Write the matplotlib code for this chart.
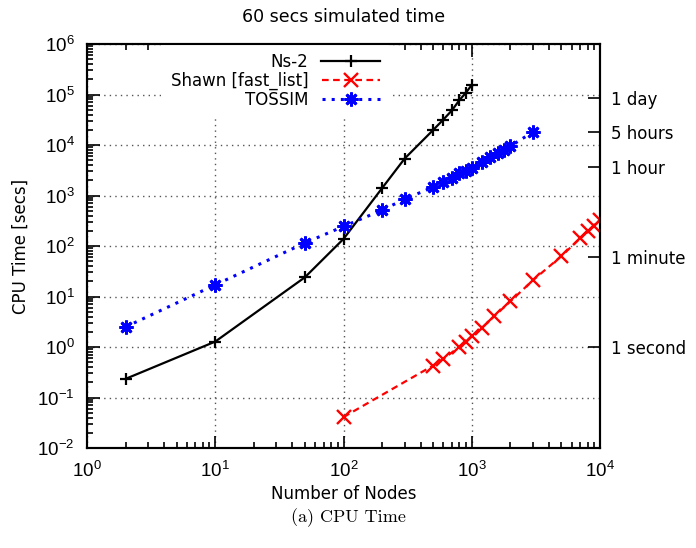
import matplotlib
matplotlib.use("Agg")
import matplotlib.pyplot as plt
from matplotlib.ticker import FixedLocator, NullLocator, FixedFormatter

plt.rcParams['font.family'] = ['Liberation Sans', 'DejaVu Sans']
plt.rcParams['font.size'] = 13.5
plt.rcParams['axes.unicode_minus'] = False
plt.rcParams['mathtext.fontset'] = 'custom'
plt.rcParams['mathtext.rm'] = 'Liberation Sans'
plt.rcParams['mathtext.it'] = 'Liberation Sans:italic'
plt.rcParams['mathtext.bf'] = 'Liberation Sans:bold'

# Ns-2
ns2_nodes = [2, 10, 50, 100, 200, 300, 500, 600, 700, 800, 900, 1000]
ns2_time = [0.234, 1.28, 24, 138, 1400, 5400, 19800, 31800, 48400, 77000, 108000, 155000]

# Shawn [fast_list]
shawn_nodes = [100, 500, 600, 800, 900, 1000, 1200, 1500, 2000, 3000, 5000, 7000, 8000, 9000, 10000]
shawn_time = [0.041, 0.43, 0.58, 1.01, 1.27, 1.65, 2.4, 4.08, 8.0, 21, 63, 142, 200, 252, 327]

# TOSSIM
tossim_nodes = [2, 10, 50, 100, 200, 300, 500, 600, 700, 800, 900, 1000, 1200, 1400, 1600, 1800, 2000, 3000]
tossim_time = [2.5, 17, 115, 244, 514, 846, 1470, 1850, 2250, 2750, 3100, 3540, 4650, 5750, 7000, 8130, 9470, 18100]

# right axis labels
right_ticks = [1, 60, 3600, 18000, 86400]
right_labels = ['1 second', '1 minute', '1 hour', '5 hours', '1 day']

txt_font = 'DejaVu Sans'

fig = plt.figure(figsize=(6.96, 5.48), dpi=100)
ax = fig.add_axes([87 / 696, 1 - 448 / 548, (600 - 87) / 696, (448 - 44) / 548])

ax.plot(ns2_nodes, ns2_time, color='black', linestyle='-', linewidth=1.6,
        marker='+', markersize=9, markeredgewidth=1.6, label='Ns-2')
ax.plot(shawn_nodes, shawn_time, color='red', linestyle=(0, (3, 2)), linewidth=1.6,
        marker='x', markersize=10, markeredgewidth=1.7, label='Shawn [fast_list]')
ax.plot(tossim_nodes, tossim_time, color='blue', linestyle=(0, (1, 2)), linewidth=2.2,
        marker=(8, 2, 0), markersize=10, markeredgewidth=2, label='TOSSIM')

ax.set_xscale('log')
ax.set_yscale('log')
ax.set_xlim(1, 1e4)
ax.set_ylim(1e-2, 1e6)
ax.grid(True, which='major', color='#555555', linestyle=(0, (1, 3)), linewidth=1.0)
ax.tick_params(which='both', direction='in', top=True, right=False, width=1.2)
ax.tick_params(which='major', length=9)
ax.tick_params(which='minor', length=4.5)
ax.tick_params(axis='x', pad=9)
ax.tick_params(axis='y', pad=9)
for s in ax.spines.values():
    s.set_linewidth(1.5)

ax.set_xlabel('Number of Nodes', family=txt_font, fontsize=12, labelpad=3)
ax.set_ylabel('CPU Time [secs]', family=txt_font, fontsize=12, labelpad=5)
ax.set_title('60 secs simulated time', family=txt_font, fontsize=12.5, pad=16)

leg = ax.legend(loc='upper right', bbox_to_anchor=((389 - 87) / 513, 1.0), markerfirst=False,
                frameon=True, fancybox=False, framealpha=1.0, edgecolor='none',
                facecolor='white', handlelength=3.5, handletextpad=0.8,
                labelspacing=0.05, borderaxespad=0.0, borderpad=0.55,
                prop={'family': txt_font, 'size': 12})
for t in leg.get_texts():
    t.set_ha('right')
leg.set_zorder(5)

ax2 = ax.twinx()
ax2.set_yscale('log')
ax2.set_ylim(1e-2, 1e6)
ax2.yaxis.set_major_locator(FixedLocator(right_ticks))
ax2.yaxis.set_major_formatter(FixedFormatter(right_labels))
ax2.yaxis.set_minor_locator(NullLocator())
ax2.tick_params(direction='in', length=9, width=1.2, pad=8)
for lbl in ax2.get_yticklabels():
    lbl.set_fontfamily(txt_font)
    lbl.set_fontsize(12)
for s in ax2.spines.values():
    s.set_linewidth(1.5)

fig.text(0.5, 1 - 518 / 548, '(a) CPU Time', family='cmr10', fontsize=13,
         ha='center', va='center')

fig.savefig('out.png', dpi=100)
